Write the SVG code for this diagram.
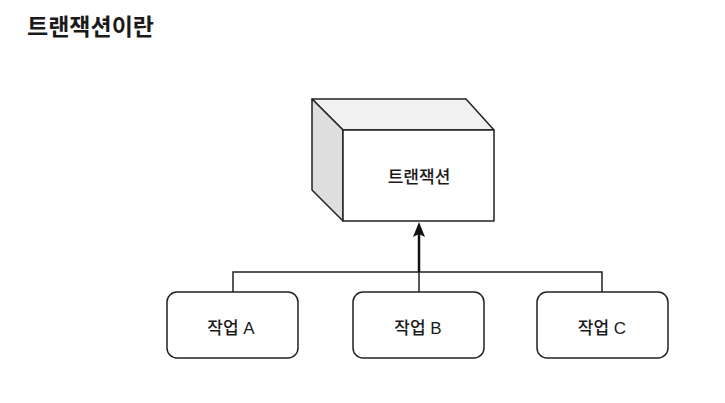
<svg xmlns="http://www.w3.org/2000/svg" width="725" height="403" viewBox="0 0 725 403">
  <style>
    .t { font-family: "Noto Sans CJK KR", "Liberation Sans", sans-serif; fill: #1a1a1a; }
    .lbl { font-family: "Liberation Sans", "Noto Sans CJK KR", sans-serif; font-size: 17px; font-weight: 500; text-anchor: middle; }
    .box { fill: #ffffff; stroke: #222222; stroke-width: 1.5; }
    .edge { fill: none; stroke: #222222; stroke-width: 1.5; }
    .cube { stroke: #222222; stroke-width: 1.5; stroke-linejoin: round; }
  </style>
  <rect width="725" height="403" fill="#ffffff"/>
  <text class="t" x="27" y="35" font-size="23" font-weight="bold">트랜잭션이란</text>

  <g id="connectors">
    <polyline class="edge" points="233,292 233,272 602,272 602,292"/>
    <line x1="419" y1="292" x2="419" y2="272" class="edge"/>
    <line x1="419" y1="272" x2="419" y2="232" stroke="#111111" stroke-width="2.5"/>
    <polygon points="419,222 425,237 419,234 413,237" fill="#111111"/>
  </g>

  <g id="transaction">
    <polygon class="cube" points="312,99 466,99 494,130 343,130" fill="#f1f1f1"/>
    <polygon class="cube" points="312,99 343,130 343,221 312,190" fill="#dedede"/>
    <rect class="cube" x="343" y="130" width="151" height="91" fill="#ffffff"/>
    <text class="t lbl" x="419" y="183">트랜잭션</text>
  </g>

  <g id="taskA">
    <rect class="box" x="167" y="292" width="131" height="66" rx="10"/>
    <text class="t lbl" x="231" y="334">작업 A</text>
  </g>
  <g id="taskB">
    <rect class="box" x="353" y="292" width="131" height="66" rx="10"/>
    <text class="t lbl" x="418" y="334">작업 B</text>
  </g>
  <g id="taskC">
    <rect class="box" x="537" y="292" width="131" height="66" rx="10"/>
    <text class="t lbl" x="602" y="334">작업 C</text>
  </g>
</svg>
